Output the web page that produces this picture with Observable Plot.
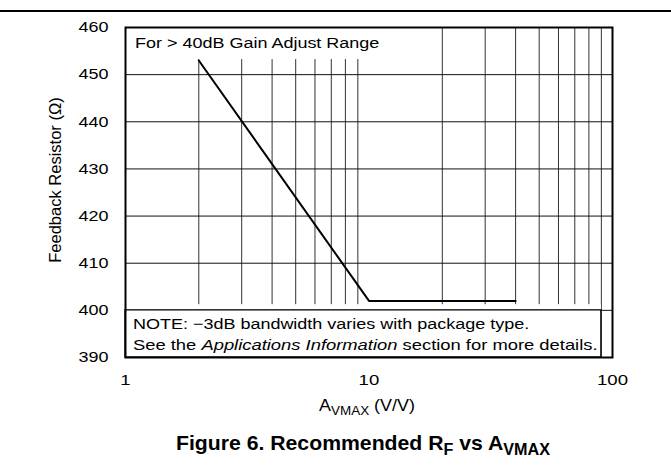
<!DOCTYPE html>
<html><head><meta charset="utf-8">
<script src="https://cdn.jsdelivr.net/npm/d3@7"></script>
<script src="https://cdn.jsdelivr.net/npm/@observablehq/plot@0.6"></script>
<style>
body{margin:0;background:#fff;font-family:"Liberation Sans",Arial,sans-serif;color:#000}
#wrap{position:relative;width:671px;height:473px;overflow:hidden;background:#fff}
#rule{position:absolute;left:0;top:10px;width:671px;height:2px;background:#000}
#chart{position:absolute;left:0;top:0}
#xlabel{position:absolute;left:0;width:734px;top:397px;text-align:center;font-size:16px;transform:scaleX(1.12);transform-origin:367px 0}
#title{position:absolute;left:0;width:726px;top:431px;text-align:center;font-size:21px;font-weight:bold;transform:scaleX(1.01);transform-origin:363px 0}
#xlabel sub{font-size:12px;vertical-align:-4px;line-height:0}
#title sub{font-size:16px;vertical-align:-5px;line-height:0}
</style></head>
<body><div id="wrap"><div id="rule"></div><div id="chart"></div>
<div id="xlabel">A<sub>VMAX</sub> (V/V)</div>
<div id="title">Figure 6. Recommended R<sub>F</sub> vs A<sub>VMAX</sub></div>
</div>
<script>
// data
const gain = [2, 10, 40];
const rf = [453, 402, 402];
const xTicks = [1, 10, 100];
const xMinor = [2,3,4,5,6,7,8,9,20,30,40,50,60,70,80,90];
const yTicks = [390,400,410,420,430,440,450,460];
const yGrid = [400,410,420,430,440,450];
const yLabel = "Feedback Resistor (\u03A9)";
const topNote = "For > 40dB Gain Adjust Range";
const topNoteBox = {x1: 1, x2: 10.3, y1: 453.2, y2: 460};
const noteBox = {x1: 1, x2: 90, y1: 390, y2: 400, cover: 401.2};
const noteLine1 = "NOTE: \u22123dB bandwidth varies with package type.";
const noteLine2 = ["See the ", "Applications Information", " section for more details."];

const pts = gain.map((g,i)=>({g, r: rf[i]}));
const font = "'Liberation Sans', Arial, sans-serif";
const STRETCH = 1.2;

const plot = Plot.plot({
  width: 671, height: 430,
  marginLeft: 125, marginRight: 59, marginTop: 27, marginBottom: 73,
  style: {fontSize: "15px", fontFamily: font, color: "#000", background: "transparent", overflow: "visible"},
  x: {type: "log", domain: [1, 100]},
  y: {domain: [390, 460]},
  marks: [
    Plot.ruleX(xMinor, {stroke: "#333", strokeWidth: 1}),
    Plot.ruleY(yGrid, {stroke: "#111", strokeWidth: 1}),
    Plot.rect([topNoteBox], {x1:"x1", x2:"x2", y1:"y1", y2:"y2", fill:"#fff"}),
    Plot.rect([noteBox], {x1:"x1", x2:"x2", y1:"y1", y2:"cover", fill:"#fff"}),
    Plot.rect([noteBox], {x1:"x1", x2:"x2", y1:"y1", y2:"y2", fill:"none", stroke:"#000", strokeWidth:1.3}),
    Plot.line(pts, {x:"g", y:"r", stroke:"#000", strokeWidth:2}),
    Plot.frame({stroke:"#000", strokeWidth:2}),
    Plot.axisX({ticks: xTicks, tickFormat: d=>String(d), tickSize: 0, tickPadding: 16, label: null, fontSize: 15.5}),
    Plot.axisY({ticks: yTicks, tickSize: 0, tickPadding: 17, label: null, fontSize: 15})
  ]
});
document.getElementById("chart").appendChild(plot);

const svgEl = plot.tagName.toLowerCase() === "svg" ? plot : plot.querySelector("svg");
const xs = plot.scale("x"), ys = plot.scale("y");
const svg = d3.select(svgEl);

function stretch(el, k) {
  const bb = el.getBBox();
  const anchor = el.getAttribute("text-anchor") || getComputedStyle(el).textAnchor || "start";
  const ax = anchor === "end" ? bb.x + bb.width : anchor === "middle" ? bb.x + bb.width / 2 : bb.x;
  const t = el.getAttribute("transform") || "";
  el.setAttribute("transform", `${t} translate(${ax},0) scale(${k},1) translate(${-ax},0)`);
}
svgEl.querySelectorAll('g[aria-label*="axis"] text').forEach(el => stretch(el, STRETCH));

const g = svg.append("g").attr("font-family", font).attr("font-size", 15).attr("fill", "#000").attr("text-anchor", "start");
const t0 = g.append("text").attr("x", xs.apply(1) + 10).attr("y", ys.apply(460) + 21).text(topNote);
const t1 = g.append("text").attr("x", xs.apply(1) + 8).attr("y", ys.apply(400) + 19).text(noteLine1);
const t2 = g.append("text").attr("x", xs.apply(1) + 8).attr("y", ys.apply(400) + 40);
noteLine2.forEach((s,i)=>{ t2.append("tspan").attr("font-style", i===1 ? "italic" : "normal").text(s); });
stretch(t0.node(), STRETCH);
stretch(t1.node(), STRETCH);
stretch(t2.node(), 1.225);
// y axis title
g.append("text").attr("text-anchor", "middle").attr("font-size", 16.5)
  .attr("transform", `translate(${xs.apply(1) - 64},${(ys.apply(460)+ys.apply(390))/2 - 12}) rotate(-90)`)
  .text(yLabel);
</script>
</body></html>
